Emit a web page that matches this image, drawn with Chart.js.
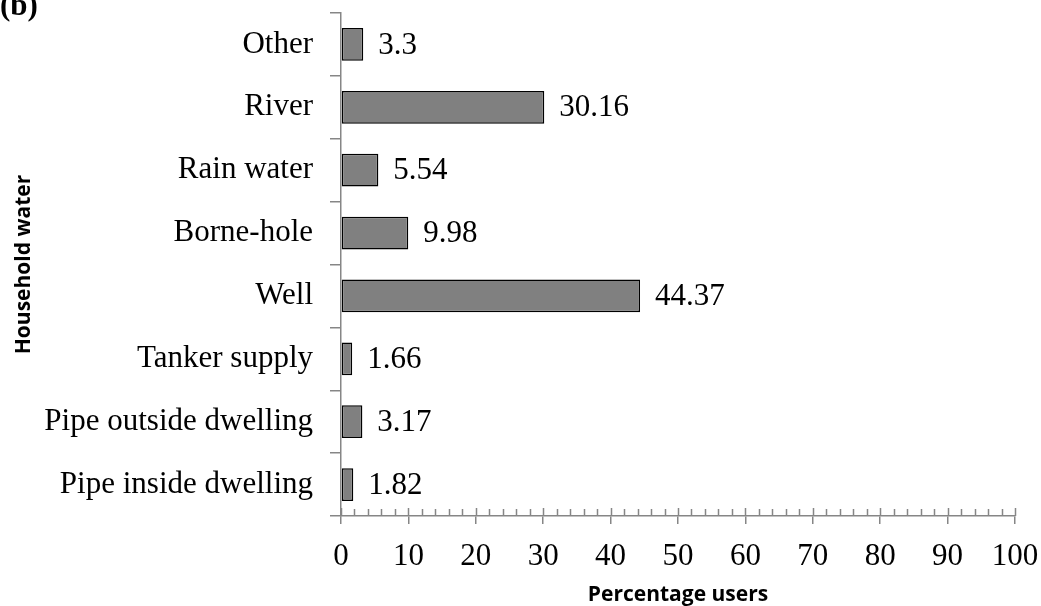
<!DOCTYPE html>
<html>
<head>
<meta charset="utf-8">
<script src="https://cdn.jsdelivr.net/npm/chart.js@4"></script>
<style>
html,body{margin:0;padding:0;background:#fff;}
#wrap{position:relative;width:1041px;height:606px;}
#lbl{position:absolute;left:0;top:-11px;font:bold 31px/31px "Liberation Serif",serif;color:#000;}
</style>
</head>
<body>
<div id="wrap"><canvas id="c"></canvas><div id="lbl">(b)</div></div>
<script>
const categories = ["Other","River","Rain water","Borne-hole","Well","Tanker supply","Pipe outside dwelling","Pipe inside dwelling"];
const values = [3.3, 30.16, 5.54, 9.98, 44.37, 1.66, 3.17, 1.82];
const valueLabels = ["3.3","30.16","5.54","9.98","44.37","1.66","3.17","1.82"];
const xTicks = [0,10,20,30,40,50,60,70,80,90,100];
const xTitle = "Percentage users";
const yTitle = "Household water";

const AXIS = "#868686";
const SERIF = '"Liberation Serif", "Times New Roman", serif';
const SANS = '"Open Sans", "Noto Sans", sans-serif';

const labelPlugin = {
  id: 'valueLabels',
  afterDatasetsDraw(chart) {
    const ctx = chart.ctx;
    const meta = chart.getDatasetMeta(0);
    ctx.save();
    ctx.font = '31px ' + SERIF;
    ctx.fillStyle = '#000';
    ctx.textAlign = 'left';
    ctx.textBaseline = 'middle';
    meta.data.forEach((bar, i) => {
      ctx.fillText(valueLabels[i], bar.x + 15, bar.y + 1);
    });
    ctx.restore();
  }
};

const minorTicks = {
  id: 'minorTicks',
  afterDraw(chart) {
    const xs = chart.scales.x;
    const ctx = chart.ctx;
    const y0 = xs.top;
    ctx.save();
    ctx.strokeStyle = AXIS;
    ctx.lineWidth = 1.5;
    ctx.beginPath();
    for (let v = 0; v <= 100; v += 2) {
      const px = Math.round(xs.getPixelForValue(v)) + 0.5;
      const major = (v % 10 === 0);
      ctx.moveTo(px, y0 - (major ? 8 : 7));
      ctx.lineTo(px, y0);
    }
    ctx.stroke();
    ctx.restore();
  }
};

new Chart(document.getElementById('c'), {
  type: 'bar',
  data: {
    labels: categories,
    datasets: [{
      data: values,
      backgroundColor: '#808080',
      borderColor: '#000',
      borderWidth: 1.5,
      borderSkipped: false,
      categoryPercentage: 1,
      barPercentage: 0.52
    }]
  },
  options: {
    indexAxis: 'y',
    responsive: true,
    maintainAspectRatio: false,
    animation: false,
    layout: { padding: { top: 13, right: 26, left: 0, bottom: 0 } },
    plugins: { legend: { display: false }, tooltip: { enabled: false } },
    scales: {
      x: {
        min: 0, max: 100,
        afterFit(s) { s.height = 90; s.paddingLeft = 0; s.paddingRight = 0; },
        afterBuildTicks(s) { s.ticks = xTicks.map(v => ({ value: v })); },
        ticks: { color: '#000', font: { family: SERIF, size: 31 }, padding: 14, maxRotation: 0, autoSkip: false },
        grid: { drawOnChartArea: false, tickLength: 8, color: AXIS, lineWidth: 1.5, tickColor: AXIS },
        border: { color: AXIS, width: 1.5 },
        title: { display: true, text: xTitle, color: '#000', font: { family: SANS, size: 21, weight: 'bold' }, padding: { top: 4, bottom: -2 } }
      },
      y: {
        afterFit(s) { s.width = 341; s.paddingTop = 0; s.paddingBottom = 0; },
        ticks: { color: '#000', font: { family: SERIF, size: 31 }, padding: 17, autoSkip: false },
        grid: { drawOnChartArea: false, tickLength: 11, color: AXIS, lineWidth: 1.5, offset: true },
        border: { color: AXIS, width: 1.5 },
        title: { display: true, text: yTitle, color: '#000', font: { family: SANS, size: 21, weight: 'bold' }, padding: { top: 11, bottom: 4 } }
      }
    }
  },
  plugins: [labelPlugin, minorTicks]
});
</script>
</body>
</html>
